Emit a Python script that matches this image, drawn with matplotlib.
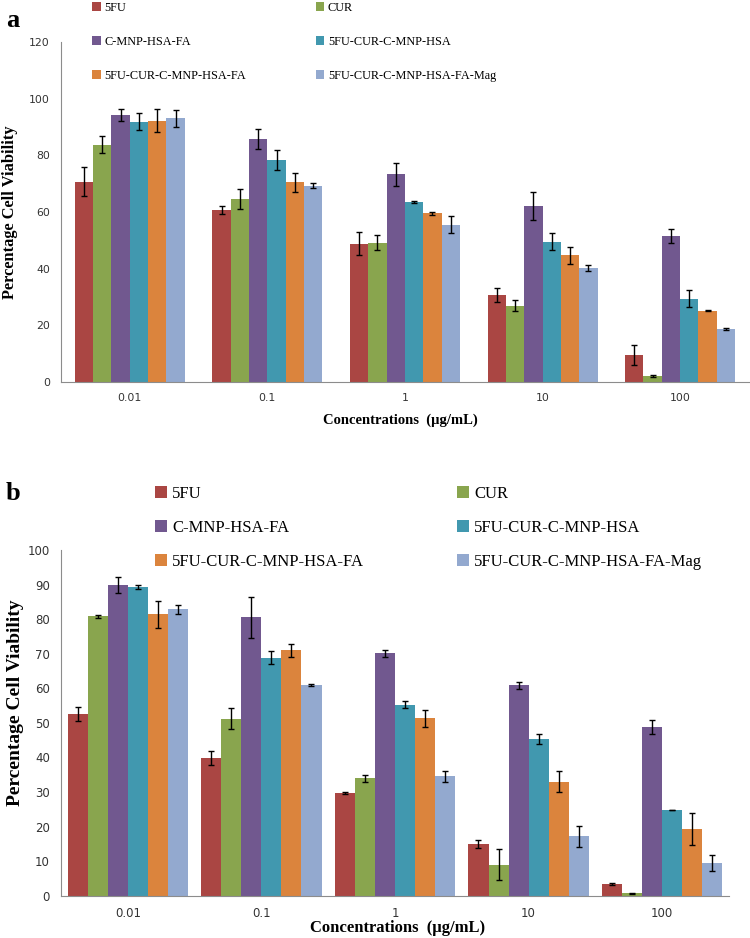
import numpy as np
import matplotlib.pyplot as plt

# data
concs = ['0.01', '0.1', '1', '10', '100']
groups = ['5FU', 'CUR', 'C-MNP-HSA-FA', '5FU-CUR-C-MNP-HSA',
          '5FU-CUR-C-MNP-HSA-FA', '5FU-CUR-C-MNP-HSA-FA-Mag']
colors = ['#AA4643', '#89A54E', '#71588F', '#4198AF', '#DB843D', '#93A9CF']

# panel a (rows = groups, cols = concentrations)
a_vals = [[70.7, 60.7, 48.8, 30.6, 9.4],
          [83.7, 64.5, 49.2, 26.9, 2.1],
          [94.2, 85.7, 73.3, 62.2, 51.6],
          [91.9, 78.2, 63.4, 49.5, 29.4],
          [92.2, 70.4, 59.5, 44.7, 25.1],
          [93.1, 69.3, 55.5, 40.2, 18.7]]
a_err = [[5.0, 1.5, 4.0, 2.5, 3.5],
         [3.0, 3.5, 2.5, 2.0, 0.3],
         [2.0, 3.5, 4.0, 5.0, 2.5],
         [3.0, 3.5, 0.3, 3.0, 3.0],
         [4.0, 3.5, 0.5, 3.0, 0.2],
         [3.0, 1.0, 3.0, 1.0, 0.5]]

# panel b
b_vals = [[52.5, 39.9, 29.7, 14.9, 3.4],
          [80.8, 51.2, 34.0, 8.9, 0.7],
          [89.9, 80.5, 70.1, 60.9, 48.8],
          [89.3, 68.9, 55.2, 45.4, 24.8],
          [81.4, 71.0, 51.3, 33.0, 19.3],
          [82.9, 60.9, 34.5, 17.2, 9.5]]
b_err = [[2.0, 2.0, 0.2, 1.2, 0.2],
         [0.5, 3.0, 1.0, 4.5, 0.2],
         [2.3, 6.0, 1.0, 1.0, 2.0],
         [0.5, 2.0, 1.0, 1.5, 0.1],
         [4.0, 1.8, 2.5, 3.0, 4.5],
         [1.3, 0.3, 1.7, 3.0, 2.3]]

serif = 'Liberation Serif'
tickfont = 'DejaVu Sans'


def draw(ax, vals, err, group_w, ymax, ystep, tick_fs, tick_pad,
         ylab_fs, xlab_fs, ylab_pos, xlab_pos):
    x = np.arange(len(concs))
    n = len(groups)
    w = group_w / n
    bars = []
    for i in range(n):
        pos = x - group_w / 2 + w * (i + 0.5)
        b = ax.bar(pos, vals[i], w, color=colors[i], label=groups[i],
                   yerr=err[i], capsize=2.5,
                   error_kw=dict(ecolor='black', elinewidth=1, capthick=1))
        bars.append(b)
    ax.set_xlim(-0.5, len(concs) - 0.5)
    ax.set_ylim(0, ymax)
    ax.set_yticks(np.arange(0, ymax + 1, ystep))
    ax.set_xticks(x)
    ax.set_xticklabels(concs)
    for s in ['top', 'right']:
        ax.spines[s].set_visible(False)
    for s in ['left', 'bottom']:
        ax.spines[s].set_color('#8c8c8c')
    ax.tick_params(length=0, labelsize=tick_fs, colors='#333333')
    ax.tick_params(axis='x', pad=tick_pad)
    ax.tick_params(axis='y', pad=8)
    for t in ax.get_xticklabels() + ax.get_yticklabels():
        t.set_family(tickfont)
    ax.set_ylabel('Percentage Cell Viability', fontdict={'fontname': serif,
                  'fontsize': ylab_fs, 'fontweight': 'bold'})
    ax.yaxis.set_label_coords(*ylab_pos)
    ax.set_xlabel('Concentrations  (\u00b5g/mL)', fontdict={'fontname': serif,
                  'fontsize': xlab_fs, 'fontweight': 'bold'})
    ax.xaxis.set_label_coords(*xlab_pos)
    # reorder so legend reads row-wise
    order = [0, 2, 4, 1, 3, 5]
    return [bars[i] for i in order], [groups[i] for i in order]


fig = plt.figure(figsize=(7.5, 9.38), dpi=100)

ax1 = fig.add_axes([0.0813, 0.5928, 0.9173, 0.3625])
h, l = draw(ax1, a_vals, a_err, 0.8, 120, 20, 7.8, 8, 11.8, 10.5,
            (-0.062, 0.5), (0.493, -0.093))
fig.legend(h, l, ncol=2, loc='upper left', bbox_to_anchor=(0.108, 1.01),
           frameon=False, prop={'family': serif, 'size': 8.8},
           handlelength=0.7, handleheight=0.7, handletextpad=0.3,
           labelspacing=1.8, columnspacing=5.7)
fig.text(0.008, 0.978, 'a', fontname=serif, fontweight='bold', fontsize=19,
         va='center')

ax2 = fig.add_axes([0.0813, 0.0451, 0.8907, 0.3685])
h, l = draw(ax2, b_vals, b_err, 0.9, 100, 10, 8.5, 8, 14, 12,
            (-0.056, 0.558), (0.504, -0.069))
fig.legend(h, l, ncol=2, loc='upper left', bbox_to_anchor=(0.187, 0.4977),
           frameon=False, prop={'family': serif, 'size': 12},
           handlelength=0.7, handleheight=0.7, handletextpad=0.3,
           labelspacing=1.08, columnspacing=5.6)
fig.text(0.008, 0.474, 'b', fontname=serif, fontweight='bold', fontsize=19,
         va='center')

plt.savefig('out.png', dpi=100)
